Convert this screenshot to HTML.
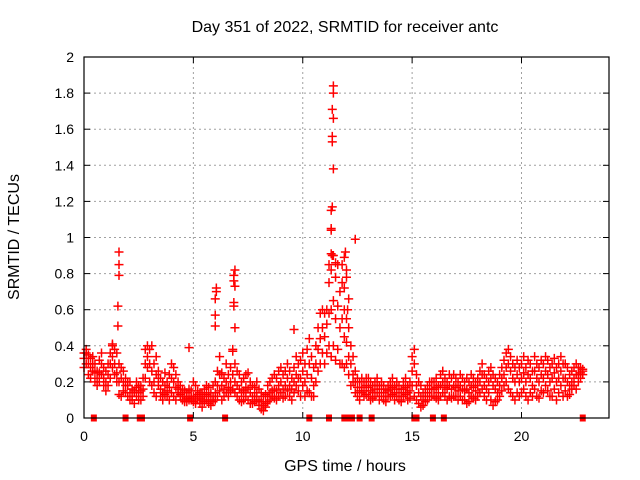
<!DOCTYPE html>
<html><head><meta charset="utf-8"><style>
body{margin:0;background:#fff;}
svg{display:block;font-family:"Liberation Sans",sans-serif;}
</style></head><body>
<svg id="chart" width="640" height="480" viewBox="0 0 640 480">
<text x="345" y="32" font-size="16" text-anchor="middle">Day 351 of 2022, SRMTID for receiver antc</text>
<text x="345" y="471" font-size="16" text-anchor="middle">GPS time / hours</text>
<text x="0" y="0" font-size="16" text-anchor="middle" transform="translate(19,237) rotate(-90)">SRMTID / TECUs</text>
<g id="grid"></g>
<g id="marks"></g>
<g id="axes"></g>
</svg>
<script>
const tStart = 0, tStep = 0.1;
const valsA = [.33,.36,.30,.28,.34,.30,.26,.32,.36,.28, .26,.30,.36,.40,.38,.36,.30,.28,.26,.22, .18,.20,.16,.14,.20,.18,.15,.22,.38,.40, .38,.40,.30,.34,.26,.22,.20,.25,.20,.24, .30,.28,.24,.20,.18,.16,.15,.14,.16,.15, .20,.18,.15,.14,.14,.16,.18,.17,.14,.18, .20,.26,.34,.25,.22,.30,.24,.28,.38,.30, .26,.24,.20,.22,.24,.25,.20,.18,.17,.20, .16,.14,.12,.13,.18,.20,.22,.24,.22,.26, .28,.24,.26,.30,.26,.22,.28,.34,.30,.32, .36,.30,.38,.44,.34,.28,.40,.50,.58,.60, .58,.60,.75,.82,.90,.78,.85,.70,.75,.60, .55,.50,.40,.34,.26,.22,.20,.22,.20,.22, .22,.20,.18,.20,.22,.18,.20,.18,.16,.18, .20,.22,.18,.20,.18,.16,.20,.22,.18,.20, .34,.38,.24,.20,.18,.14,.16,.18,.20,.20, .20,.22,.18,.24,.26,.22,.20,.24,.22,.24, .22,.20,.24,.22,.20,.22,.20,.24,.22,.20, .22,.26,.30,.24,.22,.26,.28,.24,.22,.20, .24,.28,.32,.36,.38,.34,.30,.28,.32,.28, .30,.34,.28,.32,.30,.26,.34,.30,.28,.32, .30,.34,.32,.28,.30,.33,.28,.30,.34,.30, .30,.28,.24,.26,.28,.30,.28,.28,.27];
const valsB = [.28,.30,.24,.22,.26,.20,.22,.25,.30,.22, .20,.24,.30,.34,.30,.25,.20,.22,.15,.14, .12,.14,.10,.08,.12,.14,.10,.16,.30,.34, .30,.26,.20,.24,.18,.16,.14,.18,.15,.17, .22,.20,.17,.14,.12,.12,.10,.11,.12,.11, .12,.12,.10,.08,.10,.12,.13,.12,.10,.12, .14,.18,.24,.18,.16,.20,.17,.20,.24,.20, .18,.16,.14,.15,.17,.16,.14,.12,.12,.14, .10,.09,.07,.08,.12,.14,.15,.16,.15,.18, .20,.16,.18,.22,.18,.16,.20,.24,.22,.22, .26,.20,.24,.30,.22,.18,.30,.38,.44,.50, .45,.52,.58,.60,.65,.55,.62,.50,.55,.45, .42,.34,.30,.24,.20,.17,.15,.17,.15,.18, .17,.15,.14,.16,.18,.14,.16,.14,.12,.15, .16,.17,.14,.16,.14,.12,.16,.17,.14,.15, .26,.30,.18,.14,.12,.10,.12,.14,.16,.16, .16,.17,.14,.18,.20,.17,.16,.18,.16,.18, .17,.15,.18,.16,.15,.16,.14,.18,.17,.15, .18,.20,.24,.18,.16,.20,.22,.18,.16,.14, .18,.22,.24,.28,.30,.26,.22,.20,.24,.20, .22,.25,.20,.24,.22,.18,.26,.22,.20,.24, .22,.26,.24,.20,.22,.25,.20,.22,.26,.22, .22,.20,.18,.20,.22,.24,.24,.25,.26];
const valsC = [.36,.38,.35,.33,.30,.25,.18,.20,.24,.18, .15,.18,.22,.28,.24,.20,.13,.12,.20,.18, .20,.10,.12,.15,.17,.10,.18,.12,.22,.28, .20,.18,.14,.12,.22,.12,.10,.13,.12,.10, .14,.12,.10,.16,.13,.10,.09,.09,.10,.10, .09,.08,.13,.11,.06,.09,.10,.08,.07,.09, .10,.12,.15,.10,.12,.14,.12,.15,.16,.14, .12,.10,.09,.10,.12,.10,.08,.08,.09,.10, .07,.05,.04,.06,.09,.10,.12,.11,.10,.12, .14,.11,.12,.15,.12,.10,.14,.18,.15,.12, .18,.12,.15,.14,.12,.12,.20,.26,.30,.36, .30,.36,.40,.34,.40,.32,.38,.30,.30,.28, .30,.24,.18,.20,.14,.12,.10,.14,.12,.13, .12,.10,.11,.12,.14,.10,.12,.10,.09,.12, .12,.13,.10,.12,.10,.09,.12,.13,.10,.11, .18,.12,.10,.08,.06,.07,.09,.10,.12,.12, .12,.11,.10,.12,.14,.12,.10,.12,.11,.12, .12,.10,.12,.10,.10,.08,.09,.12,.11,.10, .12,.14,.16,.12,.10,.14,.10,.07,.09,.10, .12,.15,.18,.20,.16,.14,.12,.10,.14,.12, .14,.16,.12,.10,.14,.12,.16,.12,.11,.15, .14,.18,.15,.12,.12,.16,.10,.14,.18,.12, .15,.12,.13,.16,.18,.16,.20,.22,.24];
const spikeTimes = [1.6,1.6,1.6,1.55,1.55,1.3,4.8,6.05,6.05,6.0,6.0,6.0,6.9,6.85,6.85,6.9,6.85,6.85,6.9,6.8,9.6,11.4,11.4,11.35,11.4,11.35,11.35,11.4,11.35,11.3,11.3,11.3,11.3,11.35,11.95,11.9,11.8,12.0,12.4,12.0,11.9,11.5,12.1,12.05,11.2];
const spikeVals = [.92,.85,.79,.62,.51,.41,.39,.72,.70,.66,.57,.51,.82,.79,.76,.73,.64,.62,.50,.37,.49,1.84,1.80,1.71,1.66,1.56,1.53,1.38,1.17,1.15,1.04,1.05,.91,.90,.92,.89,.85,.82,.99,.78,.72,.86,.66,.60,.85];
const zeroTimes = [0.45,1.9,2.55,2.65,4.85,6.45,10.3,11.2,11.9,12.15,12.25,12.6,13.15,15.1,15.2,15.95,16.45,22.8];
const xTicks = [0,5,10,15,20];
const yTicks = [0,0.2,0.4,0.6,0.8,1,1.2,1.4,1.6,1.8,2];
const yTickLabels = ["0","0.2","0.4","0.6","0.8","1","1.2","1.4","1.6","1.8","2"];

const L=84,R=609,T=57,B=418, XMAX=24, YMAX=2;
const xs = t => L + (t/XMAX)*(R-L);
const ys = v => B - (v/YMAX)*(B-T);
const NS="http://www.w3.org/2000/svg";
function mk(tag, attrs, parent){const e=document.createElementNS(NS,tag);for(const k in attrs)e.setAttribute(k,attrs[k]);parent.appendChild(e);return e;}
const grid=document.getElementById('grid'), marks=document.getElementById('marks'), axes=document.getElementById('axes');

xTicks.forEach(t=>{
  const x=xs(t);
  if(t>0){const g=mk('line',{x1:x,y1:T,x2:x,y2:B,stroke:'#a0a0a0','stroke-dasharray':'2,3'},grid);
  
  }
  mk('line',{x1:x,y1:B,x2:x,y2:B-6,stroke:'#000'},axes);
  mk('line',{x1:x,y1:T,x2:x,y2:T+6,stroke:'#000'},axes);
  const lb=mk('text',{x:x,y:B+23,'font-size':14,'text-anchor':'middle'},axes);
  lb.textContent=String(t);
  
  
});
yTicks.forEach((v,i)=>{
  const y=ys(v);
  if(v>0&&v<YMAX){const g=mk('line',{x1:L,y1:y,x2:R,y2:y,stroke:'#a0a0a0','stroke-dasharray':'2,3'},grid);
  
  }
  mk('line',{x1:L,y1:y,x2:L+6,y2:y,stroke:'#000'},axes);
  mk('line',{x1:R,y1:y,x2:R-6,y2:y,stroke:'#000'},axes);
  const lb=mk('text',{x:L-10,y:y+5,'font-size':14,'text-anchor':'end'},axes);
  lb.textContent=yTickLabels[i];
  
  
});
const frame=mk('rect',{x:L,y:T,width:R-L,height:B-T,fill:'none',stroke:'#000','stroke-width':1.2},axes);



function plus(t,v,color){
  const x=xs(t), y=ys(v);
  const p=mk('path',{d:`M${x-4.5},${y}H${x+4.5}M${x},${y-4.5}V${y+4.5}`,stroke:color,'stroke-width':1.5,fill:'none'},marks);
  
  
}
[valsA,valsB,valsC].forEach(arr=>{
  arr.forEach((v,i)=>{
    const t=tStart+i*tStep;
    plus(t,v,'#ff0000');
  });
});
spikeTimes.forEach((t,i)=>plus(t,spikeVals[i],'#ff0000'));
zeroTimes.forEach(t=>{
  const r=mk('rect',{x:xs(t)-3,y:B-3.5,width:6,height:7,fill:'#ff0000'},marks);
  
  
});
</script>
</body></html>
